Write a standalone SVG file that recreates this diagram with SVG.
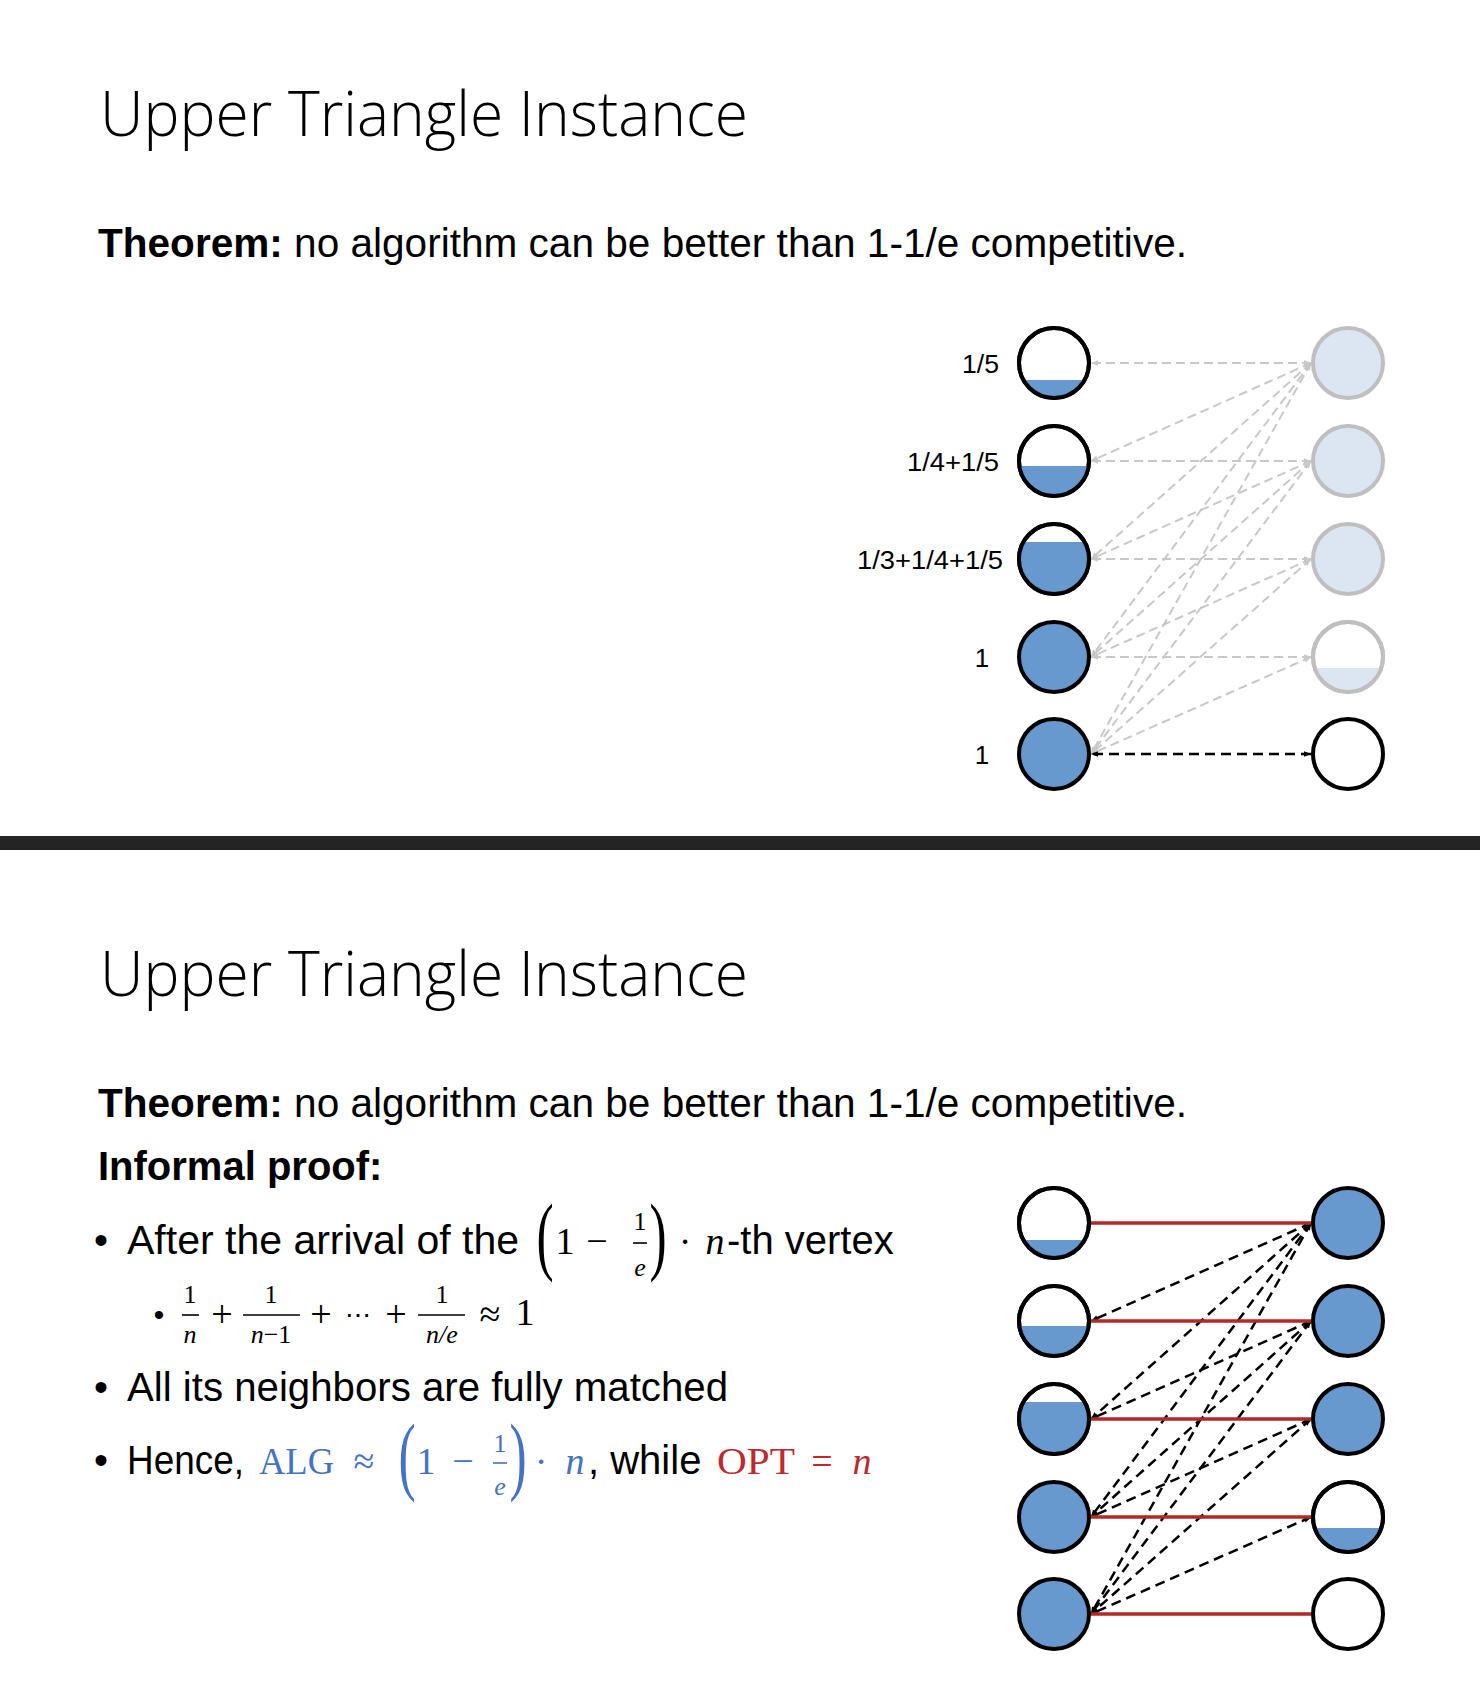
<svg xmlns="http://www.w3.org/2000/svg" width="1480" height="1686" viewBox="0 0 1480 1686">
<style>
.title{font-family:"Open Sans","Liberation Sans",sans-serif;font-weight:300;font-size:62px;fill:#000}
.body{font-family:"Liberation Sans",Arial,sans-serif;font-size:40px;fill:#000}
.b{font-weight:bold}
.lbl{font-family:"Liberation Sans",Arial,sans-serif;font-size:26px;fill:#000}
.m{font-family:"Liberation Serif","DejaVu Serif",serif;font-size:38px}
.mi{font-family:"Liberation Serif","DejaVu Serif",serif;font-style:italic;font-size:38px}
.sm{font-family:"Liberation Serif","DejaVu Serif",serif;font-size:26px}
.smi{font-family:"Liberation Serif","DejaVu Serif",serif;font-style:italic;font-size:26px}
.par{font-family:"Liberation Serif","DejaVu Serif",serif;font-size:86px}
.blue{fill:#4472C4}
.red{fill:#C0282D}
.node{stroke:#000;stroke-width:4;fill:#fff}
.full{stroke:#000;stroke-width:4;fill:#6798CE}
.ghost{stroke:#BFBFBF;stroke-width:4;fill:#DCE6F2}
.ghostw{stroke:#BFBFBF;stroke-width:4;fill:#fff}
.lvl{fill:#6798CE}
.lvlg{fill:#DCE6F2}
.outline{fill:none;stroke:#000;stroke-width:4}
.outlineg{fill:none;stroke:#BFBFBF;stroke-width:4}
.eg{stroke:#C8C8C8;stroke-width:2;stroke-dasharray:9 5;fill:none;marker-start:url(#ag);marker-end:url(#ag)}
.ek{stroke:#000;stroke-width:2.5;stroke-dasharray:10 6;fill:none;marker-start:url(#ak);marker-end:url(#ak)}
.er{stroke:#B22A25;stroke-width:3.5;fill:none}
.bar{stroke-width:1.6}
</style>
<defs>
<marker id="ag" viewBox="0 0 10 10" refX="10" refY="5" markerWidth="8" markerHeight="7" markerUnits="userSpaceOnUse" orient="auto-start-reverse"><path d="M0,1 L10,5 L0,9 z" fill="#C8C8C8"/></marker>
<marker id="ak" viewBox="0 0 10 10" refX="10" refY="5" markerWidth="8" markerHeight="7" markerUnits="userSpaceOnUse" orient="auto-start-reverse"><path d="M0,1 L10,5 L0,9 z" fill="#000"/></marker>
</defs>
<rect x="0" y="0" width="1480" height="1686" fill="#fff"/>

<!-- ===== Top slide ===== -->
<g id="top-text">
<text class="title" x="100" y="136" textLength="648" lengthAdjust="spacingAndGlyphs">Upper Triangle Instance</text>
<text class="body" x="98" y="257" textLength="1089" lengthAdjust="spacingAndGlyphs"><tspan class="b">Theorem:</tspan> no algorithm can be better than 1-1/e competitive.</text>
</g>
<g id="top-labels">
<text class="lbl" x="999" y="373" text-anchor="end" textLength="37" lengthAdjust="spacingAndGlyphs">1/5</text>
<text class="lbl" x="999" y="471" text-anchor="end" textLength="92" lengthAdjust="spacingAndGlyphs">1/4+1/5</text>
<text class="lbl" x="1003" y="569" text-anchor="end" textLength="146" lengthAdjust="spacingAndGlyphs">1/3+1/4+1/5</text>
<text class="lbl" x="982" y="667" text-anchor="middle">1</text>
<text class="lbl" x="982" y="764" text-anchor="middle">1</text>
</g>
<g id="top-connectors">
<line class="eg" x1="1311" y1="363" x2="1091" y2="363"/>
<line class="eg" x1="1311" y1="363" x2="1091" y2="461"/>
<line class="eg" x1="1311" y1="363" x2="1091" y2="559"/>
<line class="eg" x1="1311" y1="363" x2="1091" y2="657"/>
<line class="eg" x1="1311" y1="363" x2="1091" y2="754"/>
<line class="eg" x1="1311" y1="461" x2="1091" y2="461"/>
<line class="eg" x1="1311" y1="461" x2="1091" y2="559"/>
<line class="eg" x1="1311" y1="461" x2="1091" y2="657"/>
<line class="eg" x1="1311" y1="461" x2="1091" y2="754"/>
<line class="eg" x1="1311" y1="559" x2="1091" y2="559"/>
<line class="eg" x1="1311" y1="559" x2="1091" y2="657"/>
<line class="eg" x1="1311" y1="559" x2="1091" y2="754"/>
<line class="eg" x1="1311" y1="657" x2="1091" y2="657"/>
<line class="eg" x1="1311" y1="657" x2="1091" y2="754"/>
<line class="ek" x1="1311" y1="754" x2="1091" y2="754"/>
</g>
<g id="top-L1"><circle class="node" cx="1054" cy="363" r="35"/><path class="lvl" d="M1023.41,380 L1084.59,380 A35,35 0 0 1 1023.41,380 Z"/><circle class="outline" cx="1054" cy="363" r="35"/></g>
<g id="top-L2"><circle class="node" cx="1054" cy="461" r="35"/><path class="lvl" d="M1019.36,466 L1088.64,466 A35,35 0 0 1 1019.36,466 Z"/><circle class="outline" cx="1054" cy="461" r="35"/></g>
<g id="top-L3"><circle class="node" cx="1054" cy="559" r="35"/><path class="lvl" d="M1023.41,542 L1084.59,542 A35,35 0 1 1 1023.41,542 Z"/><circle class="outline" cx="1054" cy="559" r="35"/></g>
<g id="top-L4"><circle class="full" cx="1054" cy="657" r="35"/></g>
<g id="top-L5"><circle class="full" cx="1054" cy="754" r="35"/></g>
<g id="top-R1"><circle class="ghost" cx="1348" cy="363" r="35"/></g>
<g id="top-R2"><circle class="ghost" cx="1348" cy="461" r="35"/></g>
<g id="top-R3"><circle class="ghost" cx="1348" cy="559" r="35"/></g>
<g id="top-R4"><circle class="ghostw" cx="1348" cy="657" r="35"/><path class="lvlg" d="M1314.77,668 L1381.23,668 A35,35 0 0 1 1314.77,668 Z"/><circle class="outlineg" cx="1348" cy="657" r="35"/></g>
<g id="top-R5"><circle class="node" cx="1348" cy="754" r="35"/></g>

<!-- separator -->
<rect id="separator" x="0" y="836" width="1480" height="14" fill="#242424"/>

<!-- ===== Bottom slide ===== -->
<g id="bottom-text">
<text class="title" x="100" y="996" textLength="648" lengthAdjust="spacingAndGlyphs">Upper Triangle Instance</text>
<text class="body" x="98" y="1117" textLength="1089" lengthAdjust="spacingAndGlyphs"><tspan class="b">Theorem:</tspan> no algorithm can be better than 1-1/e competitive.</text>
<text class="body b" x="98" y="1180">Informal proof:</text>

<!-- bullet 1 -->
<text class="body" x="101" y="1254" text-anchor="middle">•</text>
<text class="body" x="127" y="1254" textLength="392" lengthAdjust="spacingAndGlyphs">After the arrival of the</text>
<text class="par" x="0" y="0" transform="translate(545,1264) scale(0.6,1)" text-anchor="middle">(</text>
<text class="m" x="565" y="1254" text-anchor="middle">1</text>
<text class="m" x="597" y="1254" text-anchor="middle">−</text>
<text class="sm" x="640" y="1230" text-anchor="middle">1</text>
<line class="bar" x1="633" y1="1243" x2="647" y2="1243" stroke="#000"/>
<text class="smi" x="640" y="1276" text-anchor="middle">e</text>
<text class="par" x="0" y="0" transform="translate(658,1264) scale(0.6,1)" text-anchor="middle">)</text>
<text class="m" x="685" y="1254" text-anchor="middle">·</text>
<text class="mi" x="715" y="1254" text-anchor="middle">n</text>
<text class="body" x="727" y="1254">-th vertex</text>

<!-- sub bullet -->
<text class="body" x="159" y="1325" text-anchor="middle" style="font-size:30px">•</text>
<text class="sm" x="190" y="1303" text-anchor="middle">1</text>
<line class="bar" x1="182" y1="1315" x2="199" y2="1315" stroke="#000"/>
<text class="smi" x="190" y="1343" text-anchor="middle">n</text>
<text class="m" x="222" y="1327" text-anchor="middle">+</text>
<text class="sm" x="271" y="1303" text-anchor="middle">1</text>
<line class="bar" x1="243" y1="1315" x2="300" y2="1315" stroke="#000"/>
<text class="sm" x="271" y="1343" text-anchor="middle"><tspan font-style="italic">n</tspan>−1</text>
<text class="m" x="321" y="1327" text-anchor="middle">+</text>
<text class="m" x="358" y="1324" text-anchor="middle" style="font-size:26px">⋯</text>
<text class="m" x="396" y="1327" text-anchor="middle">+</text>
<text class="sm" x="442" y="1303" text-anchor="middle">1</text>
<line class="bar" x1="418" y1="1315" x2="465" y2="1315" stroke="#000"/>
<text class="smi" x="442" y="1343" text-anchor="middle">n/e</text>
<text class="m" x="490" y="1327" text-anchor="middle">≈</text>
<text class="m" x="525" y="1325" text-anchor="middle">1</text>

<!-- bullet 2 -->
<text class="body" x="101" y="1401" text-anchor="middle">•</text>
<text class="body" x="127" y="1401" textLength="601" lengthAdjust="spacingAndGlyphs">All its neighbors are fully matched</text>

<!-- bullet 3 -->
<text class="body" x="101" y="1474" text-anchor="middle">•</text>
<text class="body" x="127" y="1474" textLength="117" lengthAdjust="spacingAndGlyphs">Hence,</text>
<text class="m blue" x="259" y="1474" textLength="75" lengthAdjust="spacingAndGlyphs">ALG</text>
<text class="m blue" x="364" y="1474" text-anchor="middle">≈</text>
<text class="par blue" x="0" y="0" transform="translate(407,1484) scale(0.6,1)" text-anchor="middle">(</text>
<text class="m blue" x="426" y="1474" text-anchor="middle">1</text>
<text class="m blue" x="463" y="1474" text-anchor="middle">−</text>
<text class="sm blue" x="500" y="1452" text-anchor="middle">1</text>
<line class="bar" x1="493" y1="1463" x2="507" y2="1463" stroke="#4472C4"/>
<text class="smi blue" x="500" y="1495" text-anchor="middle">e</text>
<text class="par blue" x="0" y="0" transform="translate(518,1484) scale(0.6,1)" text-anchor="middle">)</text>
<text class="m blue" x="541" y="1474" text-anchor="middle">·</text>
<text class="mi blue" x="575" y="1474" text-anchor="middle">n</text>
<text class="body" x="588" y="1474">, while</text>
<text class="m red" x="717" y="1474" textLength="78" lengthAdjust="spacingAndGlyphs">OPT</text>
<text class="m red" x="822" y="1474" text-anchor="middle">=</text>
<text class="mi red" x="862" y="1474" text-anchor="middle">n</text>
</g>

<g id="bottom-connectors">
<line class="ek" x1="1311" y1="1223" x2="1091" y2="1321"/>
<line class="ek" x1="1311" y1="1223" x2="1091" y2="1419"/>
<line class="ek" x1="1311" y1="1223" x2="1091" y2="1517"/>
<line class="ek" x1="1311" y1="1223" x2="1091" y2="1614"/>
<line class="ek" x1="1311" y1="1321" x2="1091" y2="1419"/>
<line class="ek" x1="1311" y1="1321" x2="1091" y2="1517"/>
<line class="ek" x1="1311" y1="1321" x2="1091" y2="1614"/>
<line class="ek" x1="1311" y1="1419" x2="1091" y2="1517"/>
<line class="ek" x1="1311" y1="1419" x2="1091" y2="1614"/>
<line class="ek" x1="1311" y1="1517" x2="1091" y2="1614"/>
<line class="er" x1="1091" y1="1223" x2="1311" y2="1223"/>
<line class="er" x1="1091" y1="1321" x2="1311" y2="1321"/>
<line class="er" x1="1091" y1="1419" x2="1311" y2="1419"/>
<line class="er" x1="1091" y1="1517" x2="1311" y2="1517"/>
<line class="er" x1="1091" y1="1614" x2="1311" y2="1614"/>
</g>
<g id="bot-L1"><circle class="node" cx="1054" cy="1223" r="35"/><path class="lvl" d="M1023.41,1240 L1084.59,1240 A35,35 0 0 1 1023.41,1240 Z"/><circle class="outline" cx="1054" cy="1223" r="35"/></g>
<g id="bot-L2"><circle class="node" cx="1054" cy="1321" r="35"/><path class="lvl" d="M1019.36,1326 L1088.64,1326 A35,35 0 0 1 1019.36,1326 Z"/><circle class="outline" cx="1054" cy="1321" r="35"/></g>
<g id="bot-L3"><circle class="node" cx="1054" cy="1419" r="35"/><path class="lvl" d="M1023.41,1402 L1084.59,1402 A35,35 0 1 1 1023.41,1402 Z"/><circle class="outline" cx="1054" cy="1419" r="35"/></g>
<g id="bot-L4"><circle class="full" cx="1054" cy="1517" r="35"/></g>
<g id="bot-L5"><circle class="full" cx="1054" cy="1614" r="35"/></g>
<g id="bot-R1"><circle class="full" cx="1348" cy="1223" r="35"/></g>
<g id="bot-R2"><circle class="full" cx="1348" cy="1321" r="35"/></g>
<g id="bot-R3"><circle class="full" cx="1348" cy="1419" r="35"/></g>
<g id="bot-R4"><circle class="node" cx="1348" cy="1517" r="35"/><path class="lvl" d="M1314.77,1528 L1381.23,1528 A35,35 0 0 1 1314.77,1528 Z"/><circle class="outline" cx="1348" cy="1517" r="35"/></g>
<g id="bot-R5"><circle class="node" cx="1348" cy="1614" r="35"/></g>
</svg>
